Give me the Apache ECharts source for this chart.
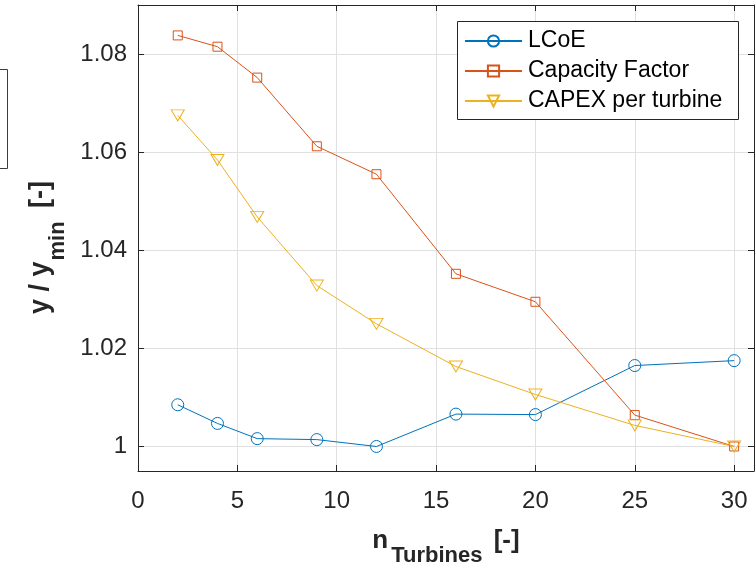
<!DOCTYPE html>
<html>
<head>
<meta charset="utf-8">
<script src="https://cdn.jsdelivr.net/npm/echarts@6/dist/echarts.min.js"></script>
<style>
  html, body { margin: 0; padding: 0; background: #fff; }
  #chart { width: 756px; height: 573px; }
</style>
</head>
<body>
<div id="chart"></div>
<script>
// Number of turbines in the farm
const nTurbines = [2, 4, 6, 9, 12, 16, 20, 25, 30];

// Each metric normalised by its own minimum (y / y_min)
const lcoe = [1.0085, 1.0047, 1.0016, 1.0014, 1.0000, 1.0066, 1.0065, 1.0165, 1.0175];
const capacityFactor = [1.0838, 1.0815, 1.0752, 1.0612, 1.0555, 1.0352, 1.0295, 1.0064, 1.0000];
const capexPerTurbine = [1.0675, 1.0584, 1.0468, 1.0328, 1.0250, 1.0163, 1.0106, 1.0043, 1.0000];

const seriesNames = ['LCoE', 'Capacity Factor', 'CAPEX per turbine'];

// Tick positions
const xTicks = [0, 5, 10, 15, 20, 25, 30];
const yTicks = [1, 1.02, 1.04, 1.06, 1.08];

const FONT = "'Liberation Sans', Arial, Helvetica, sans-serif";
const INK = '#262626';
const GRIDLINE = '#e0e0e0';
const colors = ['#0072BD', '#D95319', '#EDB120'];

const pairs = (ys) => nTurbines.map((x, i) => [x, ys[i]]);

function lineSeries(name, ys, color, symbol, size, rotate) {
  return {
    name: name,
    type: 'line',
    data: pairs(ys),
    xAxisIndex: 0,
    yAxisIndex: 0,
    symbol: symbol,
    symbolSize: size,
    symbolRotate: rotate || 0,
    showSymbol: true,
    lineStyle: { color: color, width: 1 },
    itemStyle: { color: 'rgba(255,255,255,0)', borderColor: color, borderWidth: 1 },
    emphasis: { disabled: true },
    z: 2
  };
}

const tickStyle = { show: true, inside: true, length: 6, lineStyle: { color: INK, width: 1 } };

const chart = echarts.init(document.getElementById('chart'), null, { renderer: 'canvas' });

chart.setOption({
  animation: false,
  backgroundColor: '#ffffff',
  textStyle: { fontFamily: FONT },
  grid: { left: 138, top: 5, right: 2, bottom: 102, containLabel: false },
  xAxis: [
    {
      type: 'value', position: 'bottom', min: 0, max: 31,
      axisLine: { show: true, onZero: false, lineStyle: { color: INK, width: 1 } },
      axisTick: Object.assign({ customValues: xTicks }, tickStyle),
      axisLabel: { customValues: xTicks, margin: 18, color: INK, fontSize: 24, fontFamily: FONT },
      splitLine: { show: true, lineStyle: { color: GRIDLINE, width: 1 } },
      name: '{b|n}{s|Turbines}{b| [-]}',
      nameLocation: 'middle',
      nameGap: 57,
      nameTextStyle: {
        rich: {
          b: { fontSize: 26, fontWeight: 'bold', color: INK, fontFamily: FONT, lineHeight: 30, verticalAlign: 'top' },
          s: { fontSize: 22, fontWeight: 'bold', color: INK, fontFamily: FONT, lineHeight: 20, verticalAlign: 'top', padding: [17, 4, 0, 3] }
        }
      }
    },
    {
      type: 'value', position: 'top', min: 0, max: 31,
      axisLine: { show: true, onZero: false, lineStyle: { color: INK, width: 1 } },
      axisTick: Object.assign({ customValues: xTicks }, tickStyle),
      axisLabel: { show: false },
      splitLine: { show: false }
    }
  ],
  yAxis: [
    {
      type: 'value', position: 'left', min: 0.995, max: 1.09,
      axisLine: { show: true, onZero: false, lineStyle: { color: INK, width: 1 } },
      axisTick: Object.assign({ customValues: yTicks }, tickStyle),
      axisLabel: {
        customValues: yTicks, margin: 11, color: INK, fontSize: 24, fontFamily: FONT,
        formatter: (v) => (Math.abs(v - 1) < 1e-9 ? '1' : v.toFixed(2))
      },
      splitLine: { show: true, lineStyle: { color: GRIDLINE, width: 1 } },
      name: '{b|y / y}{s|min}{e| [-]}',
      nameLocation: 'middle',
      nameRotate: 90,
      nameGap: 71,
      nameTextStyle: {
        rich: {
          b: { fontSize: 27, fontWeight: 'bold', color: INK, fontFamily: FONT, lineHeight: 30, verticalAlign: 'top' },
          s: { fontSize: 22, fontWeight: 'bold', color: INK, fontFamily: FONT, lineHeight: 20, verticalAlign: 'top', padding: [20, 0, 0, 1] },
          e: { fontSize: 27, fontWeight: 'bold', color: INK, fontFamily: FONT, lineHeight: 30, verticalAlign: 'top', padding: [0, 19, 0, 6] }
        }
      }
    },
    {
      type: 'value', position: 'right', min: 0.995, max: 1.09,
      axisLine: { show: true, onZero: false, lineStyle: { color: INK, width: 1 } },
      axisTick: Object.assign({ customValues: yTicks }, tickStyle),
      axisLabel: { show: false },
      splitLine: { show: false }
    }
  ],
  legend: {
    orient: 'vertical',
    left: 464,
    top: 29,
    padding: 0,
    itemWidth: 57,
    itemHeight: 14,
    itemGap: 6,
    selectedMode: false,
    z: 5,
    textStyle: { fontSize: 23, lineHeight: 24, color: '#000', fontFamily: FONT, padding: [0, 0, 0, 1] },
    data: seriesNames
  },
  graphic: [
    {
      // legend frame
      type: 'rect',
      z: 4,
      shape: { x: 457.5, y: 21.5, width: 281, height: 98 },
      style: { fill: '#ffffff', stroke: INK, lineWidth: 1 }
    },
    {
      type: 'rect',
      z: 4,
      shape: { x: -2.5, y: 69.5, width: 10, height: 99 },
      style: { fill: '#ffffff', stroke: '#3c3c3c', lineWidth: 1 }
    }
  ],
  series: [
    lineSeries(seriesNames[0], lcoe, colors[0], 'circle', 12),
    lineSeries(seriesNames[1], capacityFactor, colors[1], 'rect', 9),
    lineSeries(seriesNames[2], capexPerTurbine, colors[2], 'triangle', [13, 11], 180)
  ]
});
</script>
</body>
</html>
